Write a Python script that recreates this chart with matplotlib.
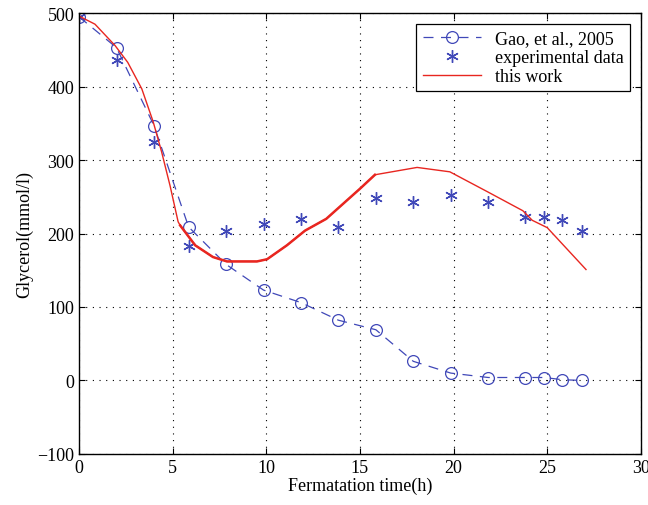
import matplotlib
matplotlib.use("Agg")
import matplotlib.pyplot as plt
import numpy as np

plt.rcParams['font.family'] = ['Liberation Serif', 'DejaVu Serif']

# Gao, et al., 2005
gao_x = [0, 2, 4, 5.85, 7.85, 9.85, 11.85, 13.85, 15.85, 17.85, 19.85, 21.85, 23.8, 24.85, 25.8, 26.85]
gao_y = [495, 453, 347, 209, 158, 123, 106, 82, 69, 26, 10, 4, 4, 4, 1, 0]

# experimental data
exp_x = [0, 2, 4, 5.87, 7.85, 9.85, 11.85, 13.85, 15.85, 17.85, 19.85, 21.85, 23.8, 24.85, 25.8, 26.85]
exp_y = [495, 436, 325, 183, 203, 213, 220, 209, 249, 243, 253, 243, 223, 223, 218, 203]

# this work
red_x = [0, 0.85, 1.92, 2.6, 3.35, 3.96, 4.41, 4.86, 5.29, 5.4, 6.2, 7.15, 7.9, 8.76, 9.5, 10.04,
         11.1, 12.07, 13.2, 15.0, 15.8, 18.05, 19.8, 21.8, 23.7, 24.2, 25.0, 27.07]
red_y = [496, 485, 456, 433, 397, 352, 311, 265, 216, 211, 184, 168, 162, 162, 162, 165,
         184, 204, 220, 261, 280, 290, 284, 257, 231, 218, 208, 151]

blue = '#4048b8'
red = '#e82620'

fig = plt.figure(figsize=(6.48, 5.06), dpi=100)
ax = fig.add_axes([0.122, 0.101, 0.867, 0.871])

ax.plot(gao_x, gao_y, linestyle=(0, (8, 6)), color=blue, lw=0.9,
        marker='o', markersize=8.5, markerfacecolor='none', markeredgecolor=blue,
        markeredgewidth=0.9, label='Gao, et al., 2005')
ax.plot(exp_x, exp_y, linestyle='none', color=blue, marker=(6, 2, 0),
        markersize=9, markeredgewidth=1.0, label='experimental data')
ax.plot(red_x, red_y, color=red, lw=1.0, label='this work')
# thicker middle part of the model curve
ax.plot(red_x[9:21], red_y[9:21], color=red, lw=1.8)

ax.set_xlim(0, 30)
ax.set_ylim(-100, 500)
ax.set_xticks(np.arange(0, 31, 5))
ax.set_yticks(np.arange(-100, 501, 100))
ax.tick_params(direction='in', top=True, right=True, labelsize=13, length=4)
ax.grid(True, linestyle=(0, (1, 5)), color='black', lw=0.8)
for s in ax.spines.values():
    s.set_linewidth(1.0)

ax.set_xlabel('Fermatation time(h)', fontsize=13, labelpad=1)
ax.set_ylabel('Glycerol(mmol/l)', fontsize=13, labelpad=3)

leg = ax.legend(loc='upper right', fontsize=13, fancybox=False, framealpha=1,
                edgecolor='black', borderaxespad=0.6, handlelength=3.2,
                labelspacing=0.1, borderpad=0.35)
leg.get_frame().set_linewidth(0.9)

fig.savefig('out.png', dpi=100)
